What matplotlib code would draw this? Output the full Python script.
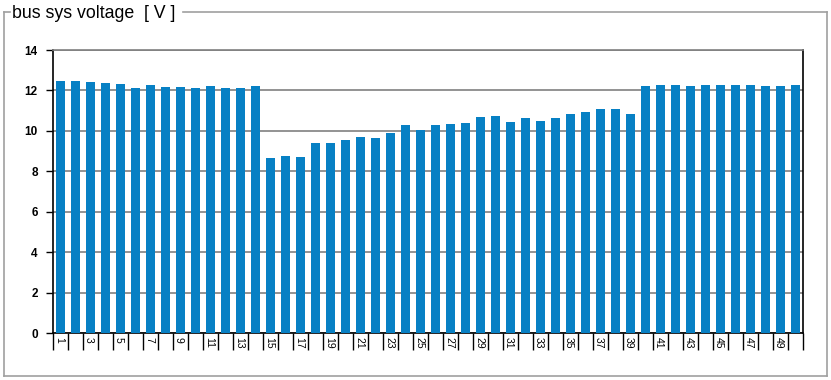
import numpy as np
import matplotlib.pyplot as plt
from matplotlib.lines import Line2D

# data
samples = list(range(1, 51))
voltage = [12.48, 12.48, 12.43, 12.38, 12.33, 12.14, 12.29, 12.19, 12.19, 12.14,
           12.24, 12.14, 12.14, 12.24, 8.67, 8.77, 8.72, 9.42, 9.42, 9.56,
           9.71, 9.66, 9.91, 10.31, 10.06, 10.31, 10.36, 10.41, 10.70, 10.75,
           10.46, 10.65, 10.50, 10.65, 10.85, 10.95, 11.10, 11.10, 10.85, 12.24,
           12.29, 12.29, 12.24, 12.29, 12.29, 12.29, 12.29, 12.24, 12.24, 12.29]
y_ticks = [0, 2, 4, 6, 8, 10, 12, 14]
title = 'bus sys voltage  [ V ]'

W, H = 831, 380
fig = plt.figure(figsize=(W / 100, H / 100), dpi=100)
ax = fig.add_axes([53 / W, 1 - 333 / H, 750 / W, 283 / H])

x = np.arange(len(samples))
ax.bar(x, voltage, width=0.6, color='#0780c4', zorder=3)

ax.set_xlim(-0.5, len(samples) - 0.5)
ax.set_ylim(0, 14)
ax.set_yticks(y_ticks)
ax.set_yticklabels([str(v) for v in y_ticks], fontsize=8.5, fontweight='bold',
                   family='Liberation Sans')
ax.yaxis.grid(True, color='#808080', linewidth=1.2, zorder=0)
ax.tick_params(axis='y', length=5, width=1, pad=6, color='black')

# boundary ticks between samples, labels on odd samples
ax.set_xticks(np.arange(len(samples) + 1) - 0.5)
ax.set_xticklabels([])
ax.tick_params(axis='x', which='major', length=12, width=1, color='black')
ax.set_xticks(x[::2] - 0.1, minor=True)
ax.set_xticklabels([str(s) for s in samples[::2]], minor=True, rotation=-90,
                   fontsize=7.5, family='Liberation Sans')
ax.tick_params(axis='x', which='minor', length=0, pad=3)
for lbl in ax.get_xticklabels(minor=True):
    lbl.set_horizontalalignment('center')
    lbl.set_verticalalignment('top')

for s in ['left', 'bottom', 'right']:
    ax.spines[s].set_color('black')
    ax.spines[s].set_linewidth(1.2)
ax.spines['top'].set_color('#808080')
ax.spines['top'].set_linewidth(1.2)

# group box around the chart
box = '#a0a0a0'
def px(xp, yp):
    return xp / W, 1 - yp / H
for (x0, y0), (x1, y1) in [((4, 12), (10, 12)), ((183, 12), (827, 12)),
                           ((4, 12), (4, 376)), ((827, 12), (827, 376)),
                           ((4, 376), (827, 376))]:
    a, b = px(x0, y0)
    c, d = px(x1, y1)
    fig.add_artist(Line2D([a, c], [b, d], color=box, linewidth=1.2))
fig.text(12 / W, 1 - 13 / H, title, fontsize=12.8, family='Liberation Sans',
         va='center', ha='left')

fig.savefig('out.png', dpi=100)
